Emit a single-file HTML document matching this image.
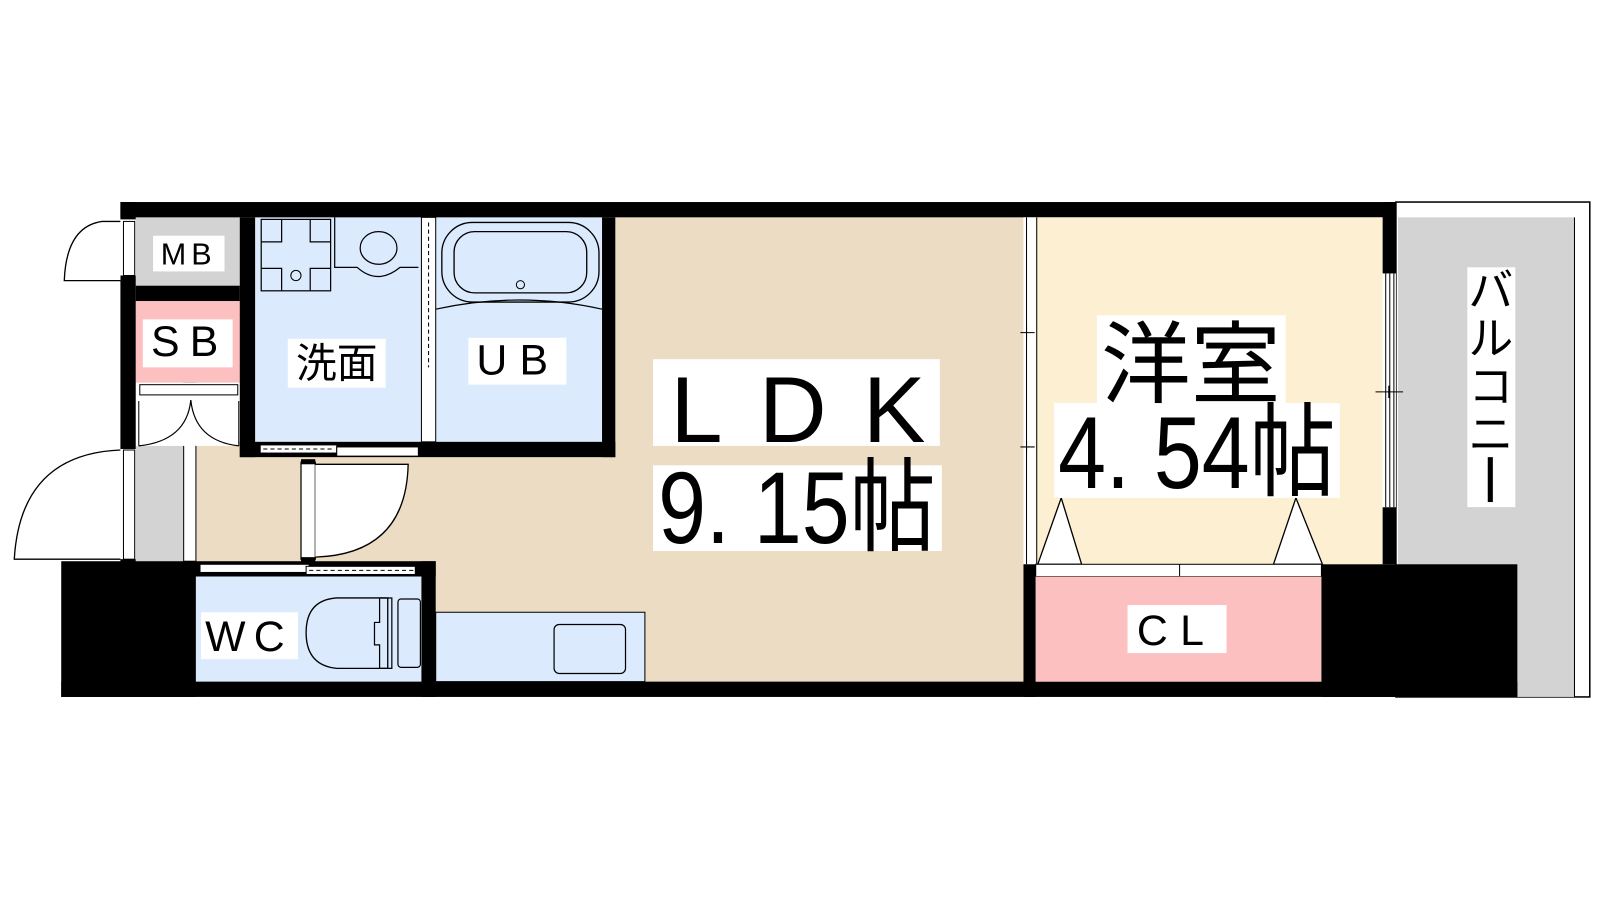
<!DOCTYPE html>
<html><head><meta charset="utf-8"><style>
html,body{margin:0;padding:0;background:#fff;}
svg{display:block;}
text{font-family:"Liberation Sans","Noto Sans CJK JP",sans-serif;fill:#000;}
</style></head><body>
<svg width="1600" height="900" viewBox="0 0 1568 882" preserveAspectRatio="none" xmlns="http://www.w3.org/2000/svg">
<rect x="0" y="0" width="1568" height="882" fill="#fff"/>
<!-- balcony -->
<rect x="1368" y="198" width="190" height="485" fill="#fff" stroke="#000" stroke-width="1.5"/>
<rect x="1370" y="213" width="173" height="470" fill="#d3d3d3"/>
<line x1="1543" y1="213" x2="1543" y2="683" stroke="#000" stroke-width="1"/>
<!-- LDK floor -->
<rect x="133" y="213" width="870" height="455" fill="#eddcc4"/>
<!-- corridor grey -->
<rect x="133" y="437" width="47" height="113" fill="#d3d3d3"/>
<rect x="180" y="375" width="12" height="175" fill="#fff" stroke="#000" stroke-width="1"/>
<!-- MB -->
<rect x="133" y="213" width="102" height="67" fill="#d3d3d3"/>
<!-- SB -->
<rect x="133" y="295" width="102" height="80" fill="#fdc0c0"/>
<!-- closet doors -->
<rect x="133" y="375" width="102" height="62" fill="#fff"/>
<rect x="137" y="377" width="96" height="10" fill="#fff" stroke="#000" stroke-width="1"/>
<path d="M136 437 Q183 432 187 392 Q191 432 234 437" fill="none" stroke="#000" stroke-width="1.2"/>
<line x1="136" y1="393" x2="136" y2="437" stroke="#000" stroke-width="1"/>
<line x1="234" y1="393" x2="234" y2="437" stroke="#000" stroke-width="1"/>
<!-- washroom & UB -->
<rect x="250" y="213" width="163" height="220" fill="#dbeafd"/>
<rect x="427" y="213" width="163" height="220" fill="#dbeafd"/>
<!-- walls -->
<rect x="118" y="198" width="1250" height="15" fill="#000"/>
<rect x="118" y="198" width="15" height="17" fill="#000"/>
<rect x="118" y="270" width="15" height="170" fill="#000"/>
<rect x="118" y="548" width="15" height="5" fill="#000"/>
<rect x="133" y="280" width="102" height="15" fill="#000"/>
<rect x="235" y="213" width="15" height="235" fill="#000"/>
<rect x="235" y="433" width="368" height="15" fill="#000"/>
<rect x="590" y="213" width="13" height="235" fill="#000"/>
<rect x="413" y="213" width="14" height="220" fill="#fff" stroke="#000" stroke-width="1"/>
<line x1="420" y1="218" x2="420" y2="360" stroke="#000" stroke-width="1" stroke-dasharray="4 3"/>
<!-- washroom sliding door -->
<rect x="255" y="436" width="75" height="8" fill="#fff" stroke="#000" stroke-width="1"/>
<line x1="258" y1="440" x2="328" y2="440" stroke="#000" stroke-dasharray="4 3"/>
<rect x="330" y="438" width="80" height="9" fill="#fff" stroke="#000" stroke-width="1"/>
<!-- washroom fixtures -->
<rect x="256" y="215" width="68" height="70" fill="none" stroke="#000" stroke-width="1.2"/>
<path d="M256 237 H276 V215 M304 215 V237 H324 M256 263 H276 V285 M304 285 V263 H324" fill="none" stroke="#000" stroke-width="1.2"/>
<circle cx="290" cy="270" r="5" fill="none" stroke="#000"/>
<path d="M328 213 V262 H350 Q370 280 392 262 H410" fill="none" stroke="#000" stroke-width="1.2"/>
<ellipse cx="371" cy="243" rx="18" ry="16" fill="none" stroke="#000" stroke-width="1.2"/>
<!-- bathtub -->
<rect x="433" y="218" width="154" height="78" rx="30" fill="none" stroke="#000" stroke-width="1.3"/>
<rect x="445" y="227" width="130" height="60" rx="20" fill="none" stroke="#000" stroke-width="1.3"/>
<circle cx="510" cy="279" r="4" fill="none" stroke="#000"/>
<path d="M427 303 Q510 285 590 303" fill="none" stroke="#000" stroke-width="1.2"/>
<!-- door to LDK -->
<rect x="295" y="453" width="14" height="95" fill="#fff" stroke="#000" stroke-width="1.2"/>
<rect x="295" y="450" width="14" height="5" fill="#000"/>
<rect x="295" y="546" width="14" height="5" fill="#000"/>
<path d="M309 455 H400 Q398 543 309 546" fill="#fff" stroke="#000" stroke-width="1.3"/>
<!-- left doors -->
<path d="M118 217 H100 Q65 222 63 275 H118" fill="#fff" stroke="#000" stroke-width="1.3"/>
<rect x="121" y="217" width="11" height="53" fill="#fff" stroke="#000" stroke-width="1"/>
<path d="M118 441 Q20 445 14 548 H118" fill="#fff" stroke="#000" stroke-width="1.3"/>
<rect x="121" y="441" width="11" height="107" fill="#fff" stroke="#000" stroke-width="1"/>
<!-- bottom-left block and WC -->
<rect x="60" y="550" width="132" height="133" fill="#000"/>
<rect x="190" y="550" width="237" height="15" fill="#000"/>
<rect x="196" y="553" width="107" height="8" fill="#fff" stroke="#000" stroke-width="1"/>
<rect x="300" y="555" width="107" height="8" fill="#fff" stroke="#000" stroke-width="1"/>
<line x1="303" y1="559" x2="405" y2="559" stroke="#000" stroke-dasharray="4 3"/>
<rect x="192" y="565" width="221" height="103" fill="#dbeafd"/>
<rect x="413" y="550" width="14" height="133" fill="#000"/>
<!-- toilet -->
<path d="M380 586 H330 Q300 588 300 620 Q300 652 330 655 H380 Z" fill="none" stroke="#000" stroke-width="1.3"/>
<path d="M367 610 H372 V586 H384 V655 H372 V632 H367 Z" fill="none" stroke="#000" stroke-width="1.2"/>
<rect x="390" y="587" width="22" height="67" rx="3" fill="none" stroke="#000" stroke-width="1.2"/>
<!-- kitchen -->
<rect x="427" y="600" width="205" height="68" fill="#dbeafd" stroke="#000" stroke-width="1"/>
<rect x="543" y="612" width="70" height="48" rx="5" fill="none" stroke="#000" stroke-width="1.2"/>
<!-- bottom wall -->
<rect x="60" y="668" width="1427" height="15" fill="#000"/>
<!-- 洋室 -->
<rect x="1015" y="213" width="340" height="340" fill="#fdf0d2"/>
<rect x="1003" y="213" width="12" height="340" fill="#fff"/>
<line x1="1006" y1="213" x2="1006" y2="553" stroke="#000"/>
<line x1="1016" y1="213" x2="1016" y2="553" stroke="#000"/>
<path d="M1000 326 H1014 M1006 320 V332 M1000 438 H1014 M1006 432 V444" stroke="#000"/>
<rect x="1355" y="198" width="13" height="70" fill="#000"/>
<rect x="1355" y="497" width="13" height="56" fill="#000"/>
<rect x="1355" y="268" width="13" height="229" fill="#fff"/>
<path d="M1358 268 V497 M1362 268 V497 M1366 268 V497 M1348 384 H1375 M1361 378 V390" stroke="#000" stroke-width="1"/>
<!-- closet door triangles -->
<path d="M1017 553 L1040 488 L1060 553 Z" fill="#fff" stroke="#000" stroke-width="1.3"/>
<path d="M1248 553 L1270 488 L1296 553 Z" fill="#fff" stroke="#000" stroke-width="1.3"/>
<rect x="1003" y="553" width="12" height="130" fill="#000"/>
<rect x="1015" y="553" width="280" height="12" fill="#fff" stroke="#000" stroke-width="1"/>
<line x1="1156" y1="553" x2="1156" y2="565" stroke="#000"/>
<rect x="1015" y="565" width="280" height="103" fill="#fdc0c0"/>
<rect x="1295" y="553" width="192" height="130" fill="#000"/>
<!-- labels -->
<rect x="150" y="231" width="70" height="35" fill="#fff"/>
<text x="185" y="259" font-size="30" text-anchor="middle" letter-spacing="5">MB</text>
<rect x="140" y="313" width="88" height="47" fill="#fff"/>
<text x="186" y="349" font-size="42" text-anchor="middle" letter-spacing="10">SB</text>
<rect x="282" y="332" width="96" height="48" fill="#fff"/>
<text x="330" y="370" font-size="40" text-anchor="middle">洗面</text>
<rect x="459" y="331" width="96" height="46" fill="#fff"/>
<text x="508" y="367" font-size="42" text-anchor="middle" letter-spacing="12">UB</text>
<rect x="640" y="352" width="281" height="85" fill="#fff"/>
<text x="782" y="433" font-size="92" text-anchor="middle" textLength="250" lengthAdjust="spacing">LDK</text>
<rect x="640" y="456" width="283" height="84" fill="#fff"/>
<text x="645" y="532" font-size="100" textLength="272" lengthAdjust="spacingAndGlyphs">9. 15帖</text>
<rect x="1075" y="309" width="185" height="86" fill="#fff"/>
<text x="1167" y="388" font-size="88" text-anchor="middle">洋室</text>
<rect x="1033" y="395" width="280" height="93" fill="#fff"/>
<text x="1037" y="478" font-size="100" textLength="272" lengthAdjust="spacingAndGlyphs">4. 54帖</text>
<rect x="1105" y="593" width="97" height="47" fill="#fff"/>
<text x="1153" y="632" font-size="42" text-anchor="middle" letter-spacing="12">CL</text>
<rect x="197" y="600" width="95" height="46" fill="#fff"/>
<text x="244" y="638" font-size="42" text-anchor="middle" letter-spacing="8">WC</text>
<rect x="1438" y="262" width="47" height="235" fill="#fff"/>
<text x="1461" y="300" font-size="44" text-anchor="middle">バ</text>
<text x="1461" y="347" font-size="44" text-anchor="middle">ル</text>
<text x="1461" y="394" font-size="44" text-anchor="middle">コ</text>
<text x="1461" y="441" font-size="44" text-anchor="middle">ニ</text>
<rect x="1458" y="448" width="5" height="44" fill="#000"/>
</svg>
</body></html>
